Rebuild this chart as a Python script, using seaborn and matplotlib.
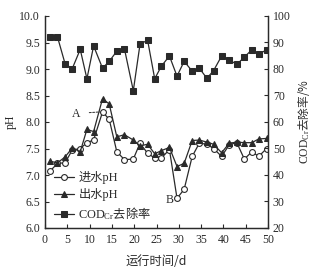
import numpy as np
import pandas as pd
import matplotlib
matplotlib.use("Agg")
import matplotlib.pyplot as plt
import seaborn as sns

# ---- data ----
days = [1.1, 2.8, 4.5, 6.1, 7.9, 9.4, 10.9, 12.9, 14.4, 16.1,
        17.8, 19.8, 21.3, 23.0, 24.6, 26.1, 27.9, 29.6, 31.2, 33.0,
        34.6, 36.3, 37.8, 39.6, 41.3, 43.0, 44.7, 46.4, 47.9, 49.7]
ph_in = [7.07, 7.22, 7.23, 7.47, 7.50, 7.61, 7.66, 8.19, 8.05, 7.44,
         7.29, 7.30, 7.60, 7.41, 7.32, 7.32, 7.48, 6.56, 6.73, 7.35,
         7.60, 7.58, 7.50, 7.35, 7.57, 7.61, 7.30, 7.44, 7.35, 7.50]
ph_out = [7.26, 7.23, 7.34, 7.51, 7.44, 7.86, 7.82, 8.44, 8.34, 7.72,
          7.76, 7.66, 7.55, 7.58, 7.40, 7.46, 7.52, 7.16, 7.22, 7.65,
          7.66, 7.62, 7.58, 7.42, 7.60, 7.62, 7.61, 7.61, 7.68, 7.69]
cod_removal = [92.1, 92.1, 82.0, 80.1, 87.4, 76.3, 88.7, 80.3, 82.9, 86.7,
               87.7, 71.8, 89.3, 90.9, 76.3, 81.1, 84.9, 77.3, 82.9, 79.2,
               80.3, 76.5, 79.4, 84.9, 83.5, 81.7, 84.5, 87.3, 85.5, 87.3]

labels = ["进水pH", "出水pH", r"$\mathrm{COD_{Cr}}$去除率"]
xticks = list(range(0, 51, 5))
ph_ticks = [6.0, 6.5, 7.0, 7.5, 8.0, 8.5, 9.0, 9.5, 10.0]
cod_ticks = list(range(20, 101, 10))

df = pd.DataFrame({"day": days, "ph_in": ph_in, "ph_out": ph_out, "cod": cod_removal})

sns.set_style("ticks")
plt.rcParams["font.family"] = ["Liberation Serif", "Noto Sans CJK SC", "DejaVu Sans"]
plt.rcParams["mathtext.fontset"] = "custom"
plt.rcParams["mathtext.rm"] = "Liberation Serif"
plt.rcParams["font.size"] = 8

CJK = "Noto Sans CJK SC"
col = "#2a2a2a"
fig = plt.figure(figsize=(3.26, 2.78), dpi=100)
ax = fig.add_axes([45/326, 1-228/278, 223/326, 212/278])
ax2 = ax.twinx()

lw = 0.9
sns.lineplot(data=df, x="day", y="ph_in", ax=ax, color=col, lw=lw, marker="o",
             markersize=4.2, markerfacecolor="white", markeredgecolor=col,
             markeredgewidth=0.8, label=labels[0], legend=False)
sns.lineplot(data=df, x="day", y="ph_out", ax=ax, color=col, lw=lw, marker="^",
             markersize=4.6, markerfacecolor=col, markeredgecolor=col,
             label=labels[1], legend=False)
sns.lineplot(data=df, x="day", y="cod", ax=ax2, color=col, lw=lw, marker="s",
             markersize=4.0, markerfacecolor=col, markeredgecolor=col,
             label=labels[2], legend=False)

ax.set_xlim(0, 50)
ax.set_ylim(6.0, 10.0)
ax2.set_ylim(20, 100)
ax.set_xticks(xticks)
ax.set_yticks(ph_ticks)
ax.set_yticklabels([f"{t:.1f}" for t in ph_ticks])
ax2.set_yticks(cod_ticks)

for a in (ax, ax2):
    a.spines["top"].set_visible(False)
    for s in a.spines.values():
        s.set_color(col)
        s.set_linewidth(0.9)
    a.tick_params(direction="in", length=3, width=0.8, colors=col, labelsize=8.5)
ax.tick_params(axis="x", pad=4)

ax.set_xlabel("运行时间/d", fontsize=8.8, color=col, labelpad=7,
              family=[CJK, "DejaVu Sans"])
ax.set_ylabel("pH", fontsize=8.5, color=col, labelpad=2)
ax2.set_ylabel(r"$\mathrm{COD_{Cr}}$去除率/%", fontsize=8.4, color=col, labelpad=4,
               family=CJK)

# annotations A and B
ax.annotate("A", xy=(days[7] - 0.6, ph_in[7]), xytext=(7.0, 8.16),
            fontsize=8.5, color=col, va="center", ha="center",
            arrowprops=dict(arrowstyle="-", linestyle=(0, (2, 1.5)), color=col, lw=0.7,
                            shrinkA=4, shrinkB=0))
ax.text(27.9, 6.53, "B", fontsize=8.5, color=col, va="center", ha="center")

h1, l1 = ax.get_legend_handles_labels()
h2, l2 = ax2.get_legend_handles_labels()
leg = ax2.legend(h1 + h2, l1 + l2, loc="upper left",
                 bbox_to_anchor=(54/326, 1-171/278), bbox_transform=fig.transFigure,
                 frameon=False, borderpad=0, borderaxespad=0, handlelength=1.6,
                 handletextpad=0.4, labelspacing=0.35, fontsize=8.8)
for t in leg.get_texts():
    t.set_color(col)
leg.get_texts()[2].set_fontfamily(CJK)

fig.savefig("out.png", dpi=100)
